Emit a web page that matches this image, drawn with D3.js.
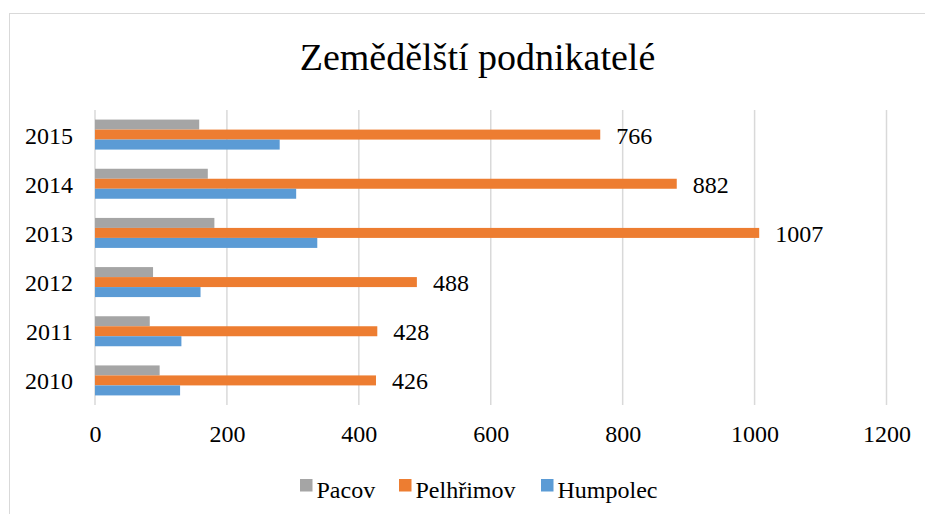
<!DOCTYPE html>
<html><head><meta charset="utf-8">
<script src="https://cdn.jsdelivr.net/npm/d3@7"></script>
<style>body{margin:0;background:#fff}svg{display:block}</style>
</head><body><svg id="c" width="925" height="514"></svg>
<script>
const years = ["2010","2011","2012","2013","2014","2015"];
const seriesNames = ["Pacov","Pelhřimov","Humpolec"];
const pacov = [98, 83, 88, 181, 171, 158];
const pelhrimov = [426, 428, 488, 1007, 882, 766];
const humpolec = [129, 131, 160, 337, 305, 280];
const xTicks = [0,200,400,600,800,1000,1200];
const colors = ["#A5A5A5","#ED7D31","#5B9BD5"];
const values = [pacov, pelhrimov, humpolec];
const FONT = '"Liberation Serif"';

const svg = d3.select("#c");
svg.append("rect").attr("x",9.5).attr("y",13.5).attr("width",930).attr("height",510)
  .attr("fill","#fff").attr("stroke","#D9D9D9");

const m = {l:95, r:886.5, t:110, b:405};
const x = d3.scaleLinear().domain([0,1200]).range([m.l, m.r]);
const y = d3.scaleBand().domain(years.slice().reverse()).range([m.t, m.b]).paddingInner(0.39).paddingOuter(0.195);
const inner = d3.scaleBand().domain(seriesNames).range([0, y.bandwidth()]);

svg.append("text").attr("x",477.5).attr("y",69.5).attr("text-anchor","middle")
  .style("font-family",FONT).style("font-size","38px").text("Zemědělští podnikatelé");

svg.append("g").selectAll("line").data(xTicks).join("line")
  .attr("x1",d=>x(d)).attr("x2",d=>x(d)).attr("y1",m.t).attr("y2",m.b)
  .attr("stroke","#D9D9D9").attr("stroke-width",1.5);

const xAxis = svg.append("g").attr("transform",`translate(0,${m.b})`)
  .call(d3.axisBottom(x).tickValues(xTicks).tickSize(0).tickPadding(0).tickFormat(d3.format("d")));
xAxis.select(".domain").remove();
xAxis.attr("font-family",null);
xAxis.selectAll("text").attr("y",37).attr("dy",null)
  .style("font-size","24px").style("font-family",FONT).attr("fill","#000");

const yAxis = svg.append("g").attr("transform",`translate(${m.l},0)`)
  .call(d3.axisLeft(y).tickSize(0).tickPadding(22));
yAxis.select(".domain").remove();
yAxis.attr("font-family",null);
yAxis.selectAll("text").attr("dy",null).attr("y",9)
  .style("font-size","24px").style("font-family",FONT).attr("fill","#000");

const g = svg.append("g");
seriesNames.forEach((s,i)=>{
  g.append("g").selectAll("rect").data(years).join("rect")
    .attr("x",x(0)).attr("y",(d)=>y(d)+inner(s)).attr("height",inner.bandwidth())
    .attr("width",(d,j)=>x(values[i][j])-x(0)).attr("fill",colors[i]);
});
svg.append("g").selectAll("text").data(years).join("text")
  .attr("x",(d,j)=>x(pelhrimov[j])+16).attr("y",d=>y(d)+inner("Pelhřimov")+inner.bandwidth()/2+9)
  .style("font-family",FONT).style("font-size","24px").text((d,j)=>pelhrimov[j]);

const legX = [300, 399, 541];
const lg = svg.append("g");
seriesNames.forEach((s,i)=>{
  lg.append("rect").attr("x",legX[i]).attr("y",479).attr("width",12.5).attr("height",12.5).attr("fill",colors[i]);
  lg.append("text").attr("x",legX[i]+16.5).attr("y",498)
    .style("font-family",FONT).style("font-size","24px").text(s);
});
</script></body></html>
